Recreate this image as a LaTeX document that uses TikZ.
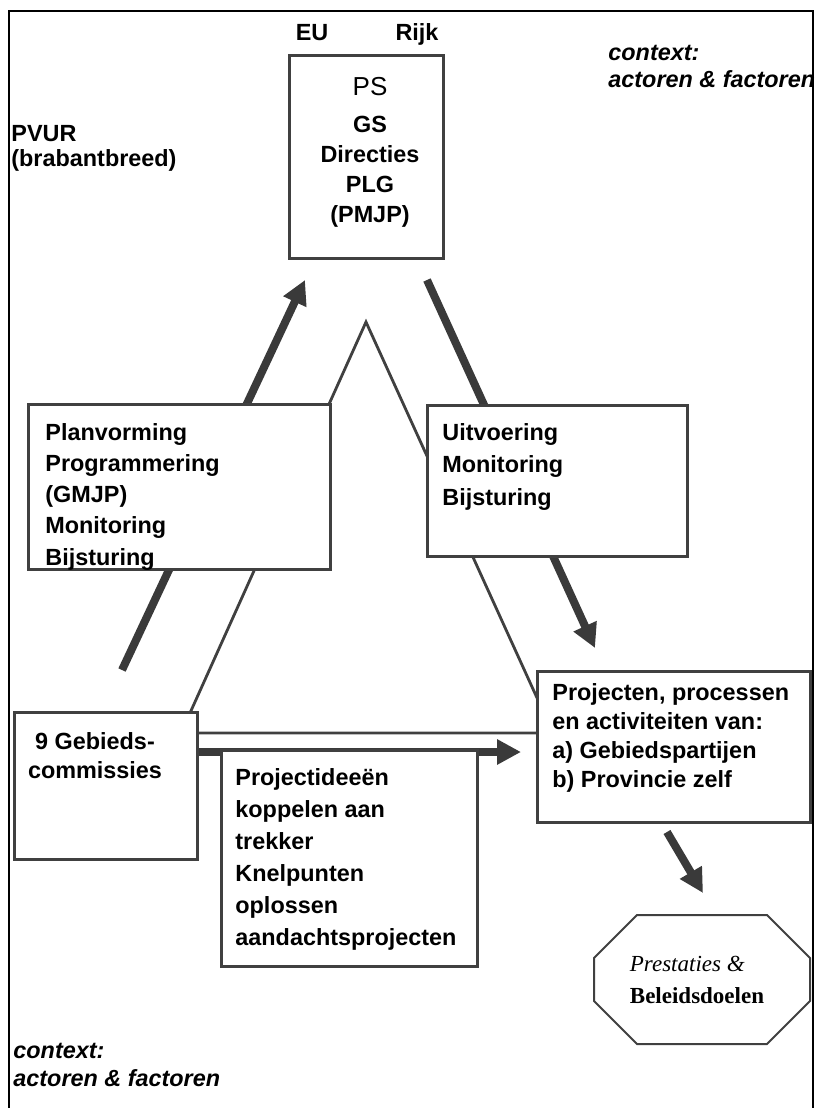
\documentclass[tikz,border=0pt]{standalone}
\usepackage{fontspec}
\setmainfont{Liberation Serif}
\setsansfont{Liberation Sans}
\usetikzlibrary{arrows.meta}
\pgfdeclarelayer{back}
\pgfsetlayers{back,main}

\definecolor{linegray}{RGB}{64,64,64}
\definecolor{arrowgray}{RGB}{58,58,58}

\begin{document}
\begin{tikzpicture}[x=0.5pt, y=-0.5pt,
    every node/.style={inner sep=0pt, font=\sffamily\bfseries\fontsize{11.7}{15.6}\selectfont},
    lead/.style={font=\sffamily\bfseries\fontsize{11.7}{#1}\selectfont},
    boxed/.style={draw=linegray, line width=1.5pt, fill=white, outer sep=0pt, anchor=north west},
    blocktext/.style={anchor=north west, align=left},
    heavy/.style={draw=arrowgray, line width=4pt, -{Triangle[length=12pt, width=12pt]}},
    thinside/.style={draw=linegray, line width=1.4pt}]
    \useasboundingbox (0,0) rectangle (818,1108);

    % Frame
    \draw[line width=1pt] (9,1108) -- (9,11) -- (813,11) -- (813,1108);

    % Boxes
    \node[boxed, minimum width=77pt, minimum height=101.5pt] (ps) at (289,55) {};
    \node[boxed, minimum width=151pt, minimum height=82.5pt] (plan) at (28,404) {};
    \node[boxed, minimum width=130pt, minimum height=75.5pt] (uitv) at (427,405) {};
    \node[boxed, minimum width=91.5pt, minimum height=73.5pt] (gebied) at (14,712) {};
    \node[boxed, minimum width=128pt, minimum height=108pt] (projid) at (221,750) {};
    \node[boxed, minimum width=136.5pt, minimum height=75.5pt] (proj) at (537,671) {};

    % Octagon
    \draw[linegray, line width=1pt] (637,915) -- (767,915) -- (810,958) -- (810,1001)
        -- (767,1044) -- (637,1044) -- (594,1001) -- (594,958) -- cycle;
    \node[align=left, font=\rmfamily\fontsize{11.5}{16}\selectfont] (goal) at (697,980)
        {\textit{Prestaties \&}\\\textbf{Beleidsdoelen}};

    % Texts
    \node[anchor=base] (eu) at (312,40) {EU};
    \node[anchor=base] (rijk) at (417,40) {Rijk};
    \node[anchor=north, align=center, lead=15pt] (pstxt) at (370,77)
        {{\mdseries\fontsize{13}{15}\selectfont PS}\\[3.5pt]GS\\Directies\\PLG\\(PMJP)};
    \node[blocktext, lead=12.5pt] (pvur) at (11,125) {PVUR\\(brabantbreed)};
    \node[blocktext, font=\sffamily\bfseries\itshape\fontsize{11.7}{13.5}\selectfont] (ctxtop) at (608,45)
        {context:\\actoren \& factoren};
    \node[blocktext, font=\sffamily\bfseries\itshape\fontsize{11.7}{14}\selectfont] (ctxbot) at (13,1043)
        {context:\\actoren \& factoren};
    \node[blocktext, lead=15.6pt] (plantxt) at (45,423)
        {Planvorming\\Programmering\\(GMJP)\\Monitoring\\Bijsturing};
    \node[blocktext, lead=16.2pt] (uitvtxt) at (442,423) {Uitvoering\\Monitoring\\Bijsturing};
    \node[anchor=north, align=center, lead=14.5pt] (gebiedtxt) at (95,732) {9 Gebieds-\\commissies};
    \node[blocktext, lead=16pt] (projidtxt) at (235,768)
        {Projectideeën\\koppelen aan\\trekker\\Knelpunten\\oplossen\\aandachtsprojecten};
    \node[blocktext, lead=14.5pt] (projtxt) at (552,683)
        {Projecten, processen\\en activiteiten van:\\a) Gebiedspartijen\\b) Provincie zelf};

    % Triangle and flows, behind the boxes
    \coordinate (apex) at (366,322);
    \coordinate (baseL) at (181,733);
    \coordinate (baseR) at (553,733);
    \coordinate (upfrom) at (122,670);
    \coordinate (upto) at (305,280);
    \coordinate (downfrom) at (427,280);
    \coordinate (downto) at (595,648);
    \coordinate (outto) at (521,752);
    \coordinate (endfrom) at (667,832);
    \coordinate (endto) at (703,893);
    \begin{pgfonlayer}{back}
        \draw[thinside] (baseL) -- (apex) -- (baseR) -- cycle;
        \draw[heavy] (upfrom) -- (upto);
        \draw[heavy] (downfrom) -- (downto);
        \draw[heavy] (gebied.east |- outto) -- (outto);
        \draw[heavy] (endfrom) -- (endto);
    \end{pgfonlayer}
\end{tikzpicture}
\end{document}
